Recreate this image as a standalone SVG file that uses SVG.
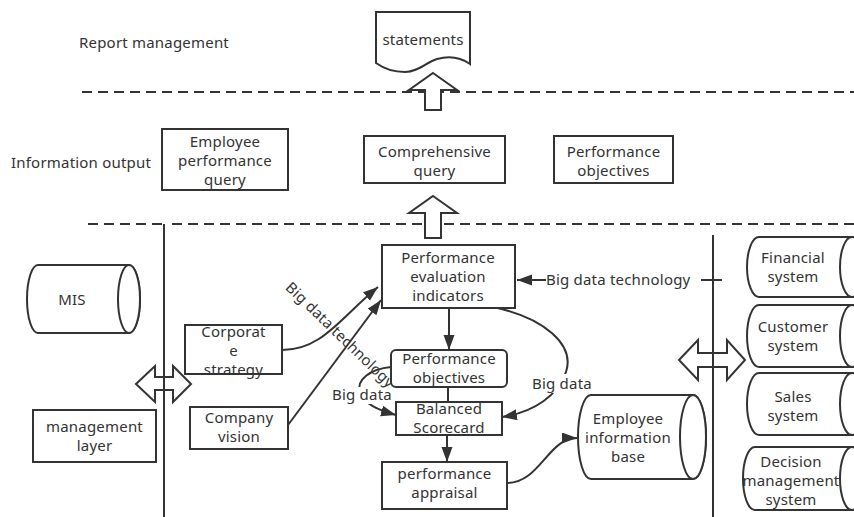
<svg xmlns="http://www.w3.org/2000/svg" width="854" height="517" viewBox="0 0 854 517">
<style>
.t{font-family:"Noto Sans","Open Sans","DejaVu Sans",sans-serif;font-size:15px;letter-spacing:0.2px;fill:#333}
.c{text-anchor:middle}
.b{fill:#fff;stroke:#333;stroke-width:2}
.ln{fill:none;stroke:#333;stroke-width:2}
.ar{fill:none;stroke:#333;stroke-width:2;marker-end:url(#ah)}
.dash{fill:none;stroke:#333;stroke-width:2;stroke-dasharray:10 6}
</style>
<defs>
<marker id="ah" markerUnits="userSpaceOnUse" markerWidth="16" markerHeight="12" refX="15" refY="5.5" orient="auto">
<path d="M0,0 L15,5.5 L0,11 Z" fill="#333"/>
</marker>
</defs>
<rect width="854" height="517" fill="#fff"/>

<g id="layers">
<path class="dash" d="M82,92 H854"/>
<path class="dash" d="M88,224 H164"/>
<path class="dash" d="M172,224 H854"/>
<text class="t" x="79" y="48">Report management</text>
<text class="t" x="11" y="168">Information output</text>
</g>

<g id="connectors">
<path class="ar" d="M282,350 C322,350 340,318 378,287"/>
<path class="ar" d="M288,425 L381,300"/>
<path class="ar" d="M449,308 V350"/>
<path class="ln" d="M448,387 V402"/>
<path class="ar" d="M447,435 V462"/>
<path class="ar" d="M507,483 C540,483 548,438 577,438"/>
<path class="ar" d="M493,307 C545,318 575,345 566,372 C558,395 535,412 502,417"/>
<path class="ar" d="M391,367 C370,369 356,380 360,392 C364,404 378,410 396,415"/>
<path class="ar" d="M546,280 H517"/>
<path class="ln" d="M701,280 H722"/>
<rect x="531" y="374" width="64" height="19" fill="#fff"/>
<text class="t c" x="562" y="389">Big data</text>
<rect x="331" y="387" width="62" height="17" fill="#fff"/>
<text class="t c" x="362" y="400">Big data</text>
<text class="t" x="546" y="285">Big data technology</text>
<text class="t c" transform="translate(340,335) rotate(44)" x="0" y="5">Big data technology</text>
</g>

<g id="statements">
<path class="b" d="M376,12 H470 V64 C460,57 448,56 437,59 C425,63 418,72 405,72 C392,72 383,68 376,63 Z"/>
<text class="t c" x="423" y="45">statements</text>
</g>

<g id="arrow-up-1">
<polygon class="b" points="433,73 457,90 441,90 441,110 425,110 425,90 409,90"/>
</g>
<g id="arrow-up-2">
<polygon class="b" points="433,196 457,213 441,213 441,238 425,238 425,213 409,213"/>
</g>

<g id="employee-performance-query">
<rect class="b" x="162" y="129" width="126" height="61"/>
<text class="t c" x="225" y="147">Employee<tspan x="225" dy="19">performance</tspan><tspan x="225" dy="19">query</tspan></text>
</g>
<g id="comprehensive-query">
<rect class="b" x="364" y="136" width="141" height="47"/>
<text class="t c" x="434.5" y="157">Comprehensive<tspan x="434.5" dy="19">query</tspan></text>
</g>
<g id="performance-objectives-top">
<rect class="b" x="554" y="136" width="119" height="47"/>
<text class="t c" x="613.5" y="157">Performance<tspan x="613.5" dy="19">objectives</tspan></text>
</g>

<g id="left-double-arrow">
<polygon class="b" points="136,384 155,366 155,377 173,377 173,366 191,384 173,402 173,390 155,390 155,402"/>
</g>
<g id="right-double-arrow">
<polygon class="b" points="679,360 698,340 698,353 727,353 727,340 745,360 727,380 727,367 698,367 698,380"/>
</g>
<g id="dividers">
<path class="ln" d="M164,224 V517"/>
<path class="ln" d="M713,235 V517"/>
</g>

<g id="mis">
<path class="b" d="M38,265 H129 A11,34 0 0 1 129,333 H38 A11,34 0 0 1 38,265 Z"/>
<ellipse class="b" cx="129" cy="299" rx="11" ry="34"/>
<text class="t c" x="72" y="305">MIS</text>
</g>
<g id="management-layer">
<rect class="b" x="33" y="410" width="123" height="52"/>
<text class="t c" x="94.5" y="432">management<tspan x="94.5" dy="19">layer</tspan></text>
</g>
<g id="corporate-strategy">
<rect class="b" x="185" y="325" width="97" height="49"/>
<text class="t c" x="233.5" y="337">Corporat<tspan x="233.5" dy="19">e</tspan><tspan x="233.5" dy="19">strategy</tspan></text>
</g>
<g id="company-vision">
<rect class="b" x="190" y="407" width="98" height="42"/>
<text class="t c" x="239" y="423">Company<tspan x="239" dy="19">vision</tspan></text>
</g>

<g id="performance-evaluation-indicators">
<rect class="b" x="382" y="245" width="133" height="63"/>
<text class="t c" x="448" y="263">Performance<tspan x="448" dy="19">evaluation</tspan><tspan x="448" dy="19">indicators</tspan></text>
</g>
<g id="performance-objectives">
<rect class="b" x="391" y="350" width="116" height="37" rx="5"/>
<text class="t c" x="449" y="364">Performance<tspan x="449" dy="19">objectives</tspan></text>
</g>
<g id="balanced-scorecard">
<rect class="b" x="396" y="402" width="106" height="33"/>
<text class="t c" x="449" y="414">Balanced<tspan x="449" dy="19">Scorecard</tspan></text>
</g>
<g id="performance-appraisal">
<rect class="b" x="382" y="462" width="125" height="47"/>
<text class="t c" x="444.5" y="479">performance<tspan x="444.5" dy="19">appraisal</tspan></text>
</g>
<g id="employee-information-base">
<path class="b" d="M591,395 H693 A13,42 0 0 1 693,479 H591 A13,42 0 0 1 591,395 Z"/>
<ellipse class="b" cx="693" cy="437" rx="13" ry="42"/>
<text class="t c" x="628" y="424">Employee<tspan x="628" dy="19">information</tspan><tspan x="628" dy="19">base</tspan></text>
</g>

<g id="financial-system">
<path class="b" d="M759,237 H852 A12,30 0 0 1 852,297 H759 A12,30 0 0 1 759,237 Z"/>
<ellipse class="b" cx="852" cy="267" rx="12" ry="30"/>
<text class="t c" x="793" y="263">Financial<tspan x="793" dy="19">system</tspan></text>
</g>
<g id="customer-system">
<path class="b" d="M759,305 H852 A12,31 0 0 1 852,367 H759 A12,31 0 0 1 759,305 Z"/>
<ellipse class="b" cx="852" cy="336" rx="12" ry="31"/>
<text class="t c" x="793" y="332">Customer<tspan x="793" dy="19">system</tspan></text>
</g>
<g id="sales-system">
<path class="b" d="M759,373 H852 A12,31 0 0 1 852,435 H759 A12,31 0 0 1 759,373 Z"/>
<ellipse class="b" cx="852" cy="404" rx="12" ry="31"/>
<text class="t c" x="793" y="402">Sales<tspan x="793" dy="19">system</tspan></text>
</g>
<g id="decision-management-system">
<path class="b" d="M755,447 H852 A12,31.5 0 0 1 852,510 H755 A12,31.5 0 0 1 755,447 Z"/>
<ellipse class="b" cx="852" cy="478.5" rx="12" ry="31.5"/>
<text class="t c" x="791" y="467">Decision<tspan x="791" dy="19">management</tspan><tspan x="791" dy="19">system</tspan></text>
</g>
</svg>
